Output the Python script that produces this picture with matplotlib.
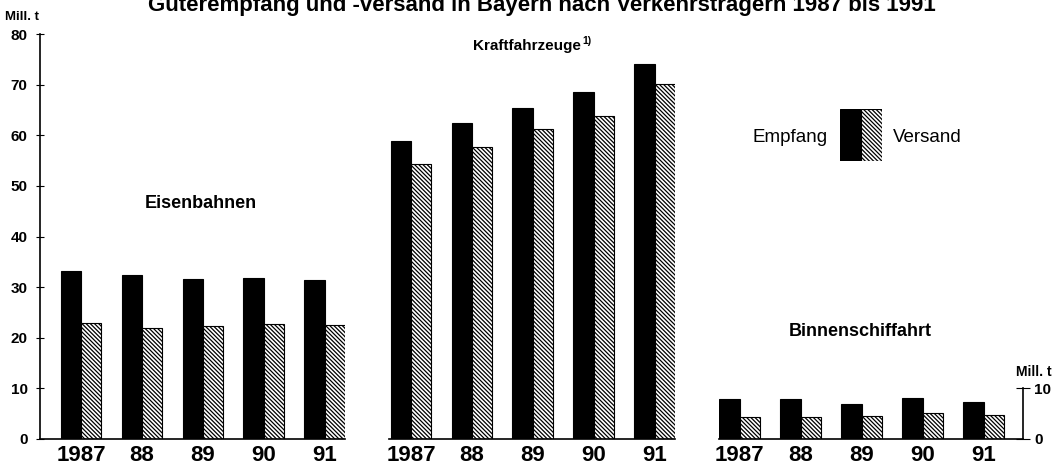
import matplotlib
matplotlib.use("Agg")
import matplotlib.pyplot as plt
import numpy as np

plt.rcParams['font.family'] = ['Liberation Sans', 'DejaVu Sans']
plt.rcParams['hatch.linewidth'] = 0.9

years = ["1987", "88", "89", "90", "91"]
eisen_empfang = [33.1, 32.3, 31.7, 31.9, 31.5]
eisen_versand = [22.9, 21.9, 22.3, 22.7, 22.5]
kfz_empfang = [58.8, 62.5, 65.3, 68.6, 74.0]
kfz_versand = [54.3, 57.6, 61.3, 63.9, 70.2]
binnen_empfang = [8.0, 8.0, 7.0, 8.1, 7.4]
binnen_versand = [4.4, 4.4, 4.5, 5.1, 4.8]
left_ticks = [0, 10, 20, 30, 40, 50, 60, 70, 80]
right_ticks = [0, 10]

W, H = 1054, 467
fig = plt.figure(figsize=(W / 100, H / 100), dpi=100)

y0 = (H - 439) / H
yh = (439 - 34) / H

HATCH = '\\' * 8


def px_axes(x_left, x_right):
    return fig.add_axes([x_left / W, y0, (x_right - x_left) / W, yh])


bw = 0.335
x = np.arange(len(years))


def draw_panel(ax, emp, ver, xlim):
    ax.bar(x - bw / 2, emp, width=bw, color='black', edgecolor='black', linewidth=0.8)
    ax.bar(x + bw / 2, ver, width=bw, color='white', edgecolor='black', linewidth=0.8,
           hatch=HATCH)
    ax.set_xlim(*xlim)
    ax.set_ylim(0, 80)
    ax.set_xticks(x)
    ax.set_xticklabels(years, fontsize=16, fontweight='bold')
    ax.tick_params(axis='x', length=0, pad=4)
    for s in ['top', 'right', 'left']:
        ax.spines[s].set_visible(False)
    ax.spines['bottom'].set_linewidth(1.2)
    ax.set_yticks([])
    ax.patch.set_alpha(0)


ax1 = px_axes(40, 345)
draw_panel(ax1, eisen_empfang, eisen_versand, (-0.672, 4.33))
ax1.spines['left'].set_visible(True)
ax1.spines['left'].set_linewidth(1.2)
ax1.set_yticks(left_ticks)
ax1.set_yticklabels([str(t) for t in left_ticks], fontsize=11, fontweight='bold')
ax1.tick_params(axis='y', direction='inout', length=6, width=0.8, pad=6)

ax2 = px_axes(389, 675)
draw_panel(ax2, kfz_empfang, kfz_versand, (-0.36, 4.33))

ax3 = px_axes(719, 1023)
draw_panel(ax3, binnen_empfang, binnen_versand, (-0.34, 4.64))
ax3.spines['right'].set_visible(True)
ax3.spines['right'].set_bounds(0, 10)
ax3.spines['right'].set_linewidth(1.2)
ax3.yaxis.tick_right()
ax3.set_yticks(right_ticks)
ax3.set_yticklabels([str(t) for t in right_ticks], fontsize=11, fontweight='bold')
ax3.tick_params(axis='y', direction='inout', length=10, width=0.8, pad=3)


def fx(px):
    return px / W


def fy(py):
    return (H - py) / H


# Title (cut off at top in the reference)
fig.text(fx(542), fy(11), "Güterempfang und -versand in Bayern nach Verkehrsträgern 1987 bis 1991",
         ha='center', va='baseline', fontsize=16, fontweight='bold')

fig.text(fx(22), fy(17), "Mill. t", ha='center', va='center', fontsize=9.5, fontweight='bold')
fig.text(fx(1034), fy(372), "Mill. t", ha='center', va='center', fontsize=10, fontweight='bold')

kt = fig.text(fx(527), fy(46), "Kraftfahrzeuge", ha='center', va='center',
              fontsize=11, fontweight='bold')
fig.canvas.draw()
bb = kt.get_window_extent()
fig.text(bb.x1 / W + 0.001, fy(41), "1)", ha='left', va='center', fontsize=7.5, fontweight='bold')

fig.text(fx(201), fy(203), "Eisenbahnen", ha='center', va='center', fontsize=13, fontweight='bold')
fig.text(fx(860), fy(332), "Binnenschiffahrt", ha='center', va='center', fontsize=13,
         fontweight='bold')

# Legend
lax = fig.add_axes([fx(840), fy(161), (882 - 840) / W, (161 - 109) / H])
lax.bar([0], [1], width=1, align='edge', color='black', edgecolor='black', linewidth=0.8)
lax.bar([1], [1], width=1, align='edge', color='white', edgecolor='black', linewidth=0.8,
        hatch=HATCH)
lax.set_xlim(0, 2)
lax.set_ylim(0, 1)
lax.axis('off')
fig.text(fx(828), fy(137), "Empfang", ha='right', va='center', fontsize=13.5)
fig.text(fx(893), fy(137), "Versand", ha='left', va='center', fontsize=13.5)

fig.savefig("out.png", dpi=100)
